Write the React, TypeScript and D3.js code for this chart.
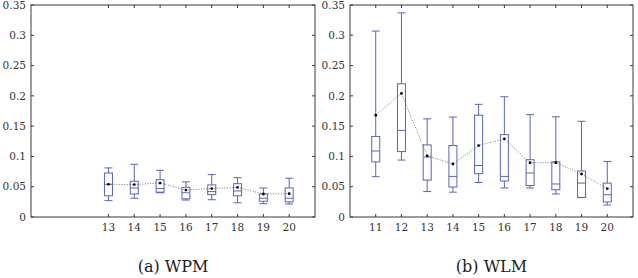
import * as d3 from 'd3';

// размеры окна
const W = 638;
const H = 278;

// общие подписи оси Y
const yTicks = [0, 0.05, 0.1, 0.15, 0.2, 0.25, 0.3, 0.35];

// WPM: категории 13..20
const wpmCats = [13, 14, 15, 16, 17, 18, 19, 20];
const wpmLow = [0.027, 0.031, 0.040, 0.028, 0.0285, 0.0235, 0.022, 0.0215];
const wpmQ1 = [0.035, 0.038, 0.041, 0.030, 0.037, 0.035, 0.026, 0.025];
const wpmMed = [0.054, 0.048, 0.047, 0.040, 0.042, 0.043, 0.031, 0.031];
const wpmQ3 = [0.0726, 0.059, 0.0615, 0.049, 0.053, 0.055, 0.038, 0.048];
const wpmHigh = [0.081, 0.087, 0.077, 0.058, 0.070, 0.065, 0.048, 0.064];
const wpmMean = [0.054, 0.0535, 0.056, 0.0445, 0.047, 0.049, 0.038, 0.0385];

// WLM: категории 11..20
const wlmCats = [11, 12, 13, 14, 15, 16, 17, 18, 19, 20];
const wlmLow = [0.0665, 0.094, 0.042, 0.041, 0.057, 0.048, 0.048, 0.038, 0.032, 0.0198];
const wlmQ1 = [0.091, 0.108, 0.061, 0.0495, 0.0715, 0.0594, 0.052, 0.045, 0.0324, 0.0248];
const wlmMed = [0.109, 0.143, 0.099, 0.067, 0.085, 0.067, 0.0726, 0.0545, 0.056, 0.0368];
const wlmQ3 = [0.133, 0.220, 0.119, 0.118, 0.168, 0.136, 0.0946, 0.091, 0.076, 0.056];
const wlmHigh = [0.307, 0.337, 0.162, 0.165, 0.186, 0.1985, 0.169, 0.1655, 0.158, 0.0917];
const wlmMean = [0.168, 0.204, 0.101, 0.0875, 0.118, 0.129, 0.0896, 0.0896, 0.071, 0.0467];

const BOX = '#5a66b4';
const AXIS = '#3a3a3a';
const FONT = "'DejaVu Serif', 'Liberation Serif', serif";

type PanelProps = {
  left: number;
  right: number;
  cats: number[];
  low: number[];
  q1: number[];
  med: number[];
  q3: number[];
  high: number[];
  mean: number[];
  caption: string;
};

const Panel = (props: PanelProps) => {
  const top = 5;
  const bottom = 217;
  const x = d3.scaleLinear().domain([10, 21]).range([props.left, props.right]);
  const y = d3.scaleLinear().domain([0, 0.35]).range([bottom, top]);
  const bw = 8;
  const tl = 3;

  const meanLine = d3
    .line<number>()
    .x((_, i) => x(props.cats[i]))
    .y((d) => y(d))(props.mean);

  return (
    <g>
      <rect
        x={props.left}
        y={top}
        width={props.right - props.left}
        height={bottom - top}
        fill="none"
        stroke={AXIS}
        strokeWidth={1}
      />
      {yTicks.map((t) => (
        <g key={'y' + t}>
          <line x1={props.left} x2={props.left + tl} y1={y(t)} y2={y(t)} stroke={AXIS} />
          <line x1={props.right} x2={props.right - tl} y1={y(t)} y2={y(t)} stroke={AXIS} />
          <text
            x={props.left - 5}
            y={y(t)}
            dy="0.35em"
            textAnchor="end"
            fill="#333"
            style={{ fontFamily: FONT, fontSize: '10.5px' }}
          >
            {String(t)}
          </text>
        </g>
      ))}
      {props.cats.map((c) => (
        <g key={'x' + c}>
          <line x1={x(c)} x2={x(c)} y1={bottom} y2={bottom - tl} stroke={AXIS} />
          <line x1={x(c)} x2={x(c)} y1={top} y2={top + tl} stroke={AXIS} />
          <text
            x={x(c)}
            y={bottom + 14}
            textAnchor="middle"
            fill="#333"
            style={{ fontFamily: FONT, fontSize: '10.5px' }}
          >
            {c}
          </text>
        </g>
      ))}
      {/* ящики с усами */}
      {props.cats.map((c, i) => {
        const cx = x(c);
        return (
          <g key={'b' + c} stroke={BOX} strokeWidth={1} fill="none">
            <line x1={cx} x2={cx} y1={y(props.high[i])} y2={y(props.q3[i])} />
            <line x1={cx} x2={cx} y1={y(props.q1[i])} y2={y(props.low[i])} />
            <line x1={cx - bw / 2} x2={cx + bw / 2} y1={y(props.high[i])} y2={y(props.high[i])} />
            <line x1={cx - bw / 2} x2={cx + bw / 2} y1={y(props.low[i])} y2={y(props.low[i])} />
            <rect
              x={cx - bw / 2}
              y={y(props.q3[i])}
              width={bw}
              height={y(props.q1[i]) - y(props.q3[i])}
            />
            <line x1={cx - bw / 2} x2={cx + bw / 2} y1={y(props.med[i])} y2={y(props.med[i])} />
          </g>
        );
      })}
      {/* средние значения */}
      <path d={meanLine || ''} fill="none" stroke="#555" strokeWidth={0.8} strokeDasharray="1,1.6" />
      {props.cats.map((c, i) => (
        <circle key={'m' + c} cx={x(c)} cy={y(props.mean[i])} r={1.4} fill="#000" />
      ))}
      <text
        x={(props.left + props.right) / 2}
        y={272}
        textAnchor="middle"
        fill="#222"
        style={{ fontFamily: FONT, fontSize: '16px' }}
      >
        {props.caption}
      </text>
    </g>
  );
};

export default function App() {
  return (
    <svg
      width={W}
      height={H}
      style={{ position: 'absolute', left: 0, top: 0, background: '#fff' }}
    >
      <Panel
        left={31}
        right={315}
        cats={wpmCats}
        low={wpmLow}
        q1={wpmQ1}
        med={wpmMed}
        q3={wpmQ3}
        high={wpmHigh}
        mean={wpmMean}
        caption="(a)  WPM"
      />
      <Panel
        left={350}
        right={633}
        cats={wlmCats}
        low={wlmLow}
        q1={wlmQ1}
        med={wlmMed}
        q3={wlmQ3}
        high={wlmHigh}
        mean={wlmMean}
        caption="(b)  WLM"
      />
    </svg>
  );
}
